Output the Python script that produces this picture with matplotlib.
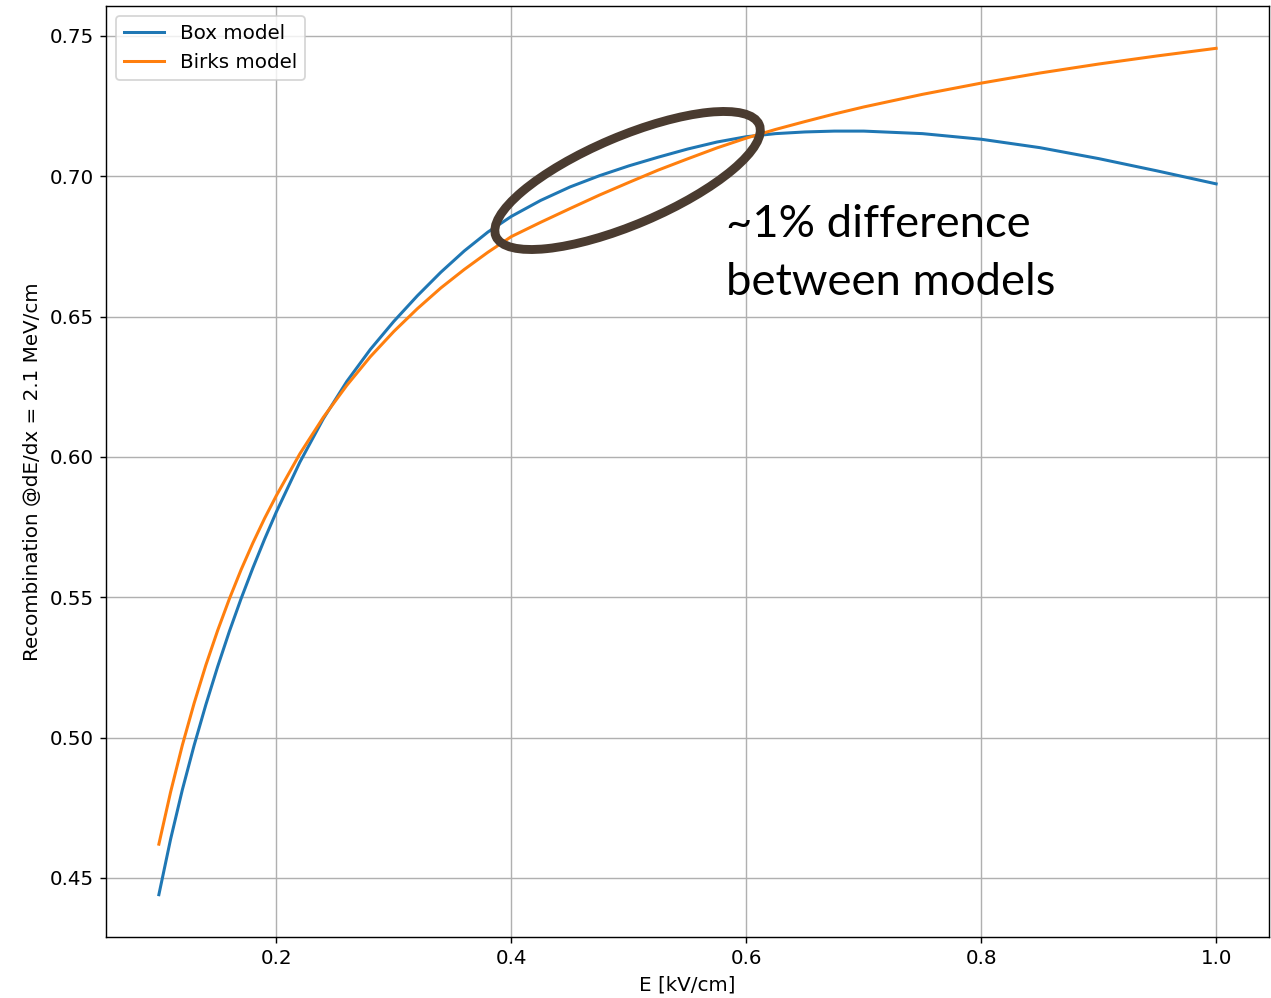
import numpy as np
import matplotlib
matplotlib.use("Agg")
import matplotlib.pyplot as plt
from matplotlib.patches import Ellipse
from matplotlib.transforms import ScaledTranslation

# Values
e_box = [0.10, 0.11, 0.12, 0.13, 0.14, 0.15, 0.16, 0.17, 0.18, 0.19,
         0.20, 0.22, 0.24, 0.26, 0.28, 0.30, 0.32, 0.34, 0.36, 0.38,
         0.40, 0.425, 0.45, 0.475, 0.50, 0.525, 0.55, 0.575, 0.60, 0.625,
         0.65, 0.675, 0.70, 0.75, 0.80, 0.85, 0.90, 0.95, 1.00]
r_box = [0.4440, 0.4638, 0.4814, 0.4972, 0.5117, 0.5252, 0.5378, 0.5495, 0.5604, 0.5707,
         0.5804, 0.5981, 0.6136, 0.6269, 0.6383, 0.6483, 0.6574, 0.6658, 0.6734, 0.6801,
         0.6857, 0.6914, 0.6962, 0.7002, 0.7037, 0.7068, 0.7097, 0.7122, 0.7141, 0.7152,
         0.7158, 0.7161, 0.7161, 0.7152, 0.7132, 0.7102, 0.7063, 0.7019, 0.6973]

e_birks = [0.10, 0.11, 0.12, 0.13, 0.14, 0.15, 0.16, 0.17, 0.18, 0.19,
           0.20, 0.22, 0.24, 0.26, 0.28, 0.30, 0.32, 0.34, 0.36, 0.38,
           0.40, 0.425, 0.45, 0.475, 0.50, 0.525, 0.55, 0.575, 0.60, 0.625,
           0.65, 0.675, 0.70, 0.75, 0.80, 0.85, 0.90, 0.95, 1.00]
r_birks = [0.4620, 0.4806, 0.4973, 0.5122, 0.5258, 0.5381, 0.5494, 0.5598, 0.5693, 0.5781,
           0.5862, 0.6011, 0.6141, 0.6255, 0.6357, 0.6447, 0.6528, 0.6602, 0.6668, 0.6729,
           0.6785, 0.6836, 0.6885, 0.6933, 0.6978, 0.7022, 0.7062, 0.7101, 0.7136, 0.7167,
           0.7195, 0.7222, 0.7247, 0.7292, 0.7332, 0.7368, 0.7400, 0.7429, 0.7456]

dpi = 128
plt.rcParams['font.size'] = 11.2
fig = plt.figure(figsize=(1271 / dpi, 998 / dpi), dpi=dpi)
ax = fig.add_axes([106 / 1271, 1 - 937 / 998, 1163 / 1271, 931 / 998])

ax.plot(e_box, r_box, label='Box model', linewidth=1.7)
ax.plot(e_birks, r_birks, label='Birks model', linewidth=1.7)
ax.set_xlabel('E [kV/cm]')
ax.set_ylabel('Recombination @dE/dx = 2.1 MeV/cm')
ax.grid(True)
ax.legend(loc='upper left')

# annotation: ellipse drawn in inches around the region where the curves separate
trans = fig.dpi_scale_trans + ScaledTranslation(0.499, 0.6985, ax.transData)
ell = Ellipse((0, 0), 286 / dpi, 88 / dpi, angle=23, transform=trans,
              fill=False, edgecolor='#4a3b30', linewidth=5.0, zorder=5)
ax.add_patch(ell)

note_font = ['Lato', 'DejaVu Sans']
ax.text(0.5826, 0.6785, '~1% difference', fontsize=25.5, family=note_font,
        va='baseline', ha='left', color='black')
ax.text(0.5826, 0.6578, 'between models', fontsize=25.5, family=note_font,
        va='baseline', ha='left', color='black')

fig.savefig('out.png', dpi=dpi)
